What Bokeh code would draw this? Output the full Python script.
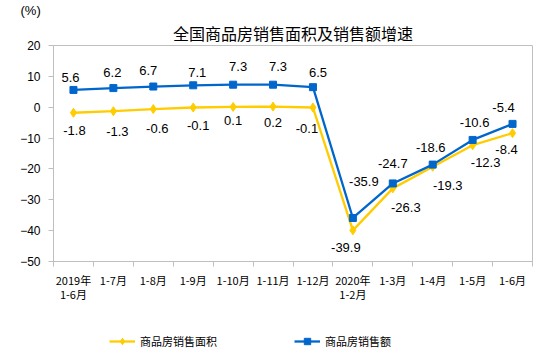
from bokeh.plotting import figure
from bokeh.layouts import column
from bokeh.models import Range1d, FixedTicker, Title, Legend, LegendItem, ColumnDataSource
from bokeh.embed import file_html
from bokeh.resources import INLINE
from bokeh.core.properties import value

categories = ["2019年\n1-6月", "1-7月", "1-8月", "1-9月", "1-10月", "1-11月", "1-12月",
              "2020年\n1-2月", "1-3月", "1-4月", "1-5月", "1-6月"]
area_growth = [-1.8, -1.3, -0.6, -0.1, 0.1, 0.2, -0.1, -39.9, -26.3, -19.3, -12.3, -8.4]
sales_growth = [5.6, 6.2, 6.7, 7.1, 7.3, 7.3, 6.5, -35.9, -24.7, -18.6, -10.6, -5.4]
y_ticks = [-50, -40, -30, -20, -10, 0, 10, 20]
series_names = ["商品房销售面积", "商品房销售额"]

# label placement offsets (screen px, y positive = down)
sales_dx = [-3, -1, -5, 4, 5, 5, 5, 11, 0, -2, 2, -9]
sales_dy = [-12, -16, -16, -13, -18, -18, -15, -36, -20, -17, -17, -16]
area_dx = [1, 4, 4, 5, 0, 0, -6, -7, 13, 15, 13, -6]
area_dy = [18, 20, 19, 18, 14, 16, 21, 17, 19, 19, 17, 16]

YELLOW = "#FFCC00"
BLUE = "#0066CC"
GRAY = "#BFBFBF"
CJK = "Noto Sans CJK SC"
LAT = "Liberation Sans"

xs = list(range(len(categories)))
src = ColumnDataSource(dict(
    x=xs, area=area_growth, sales=sales_growth,
    area_txt=[f"{v:.1f}" for v in area_growth],
    sales_txt=[f"{v:.1f}" for v in sales_growth],
    sdx=sales_dx, sdy=sales_dy, adx=area_dx, ady=area_dy,
))

p = figure(width=548, height=318, output_backend="svg", toolbar_location=None,
           x_range=Range1d(-0.5, len(categories) - 0.5), y_range=Range1d(-50, 20),
           min_border_left=53, min_border_right=16, min_border_top=45, min_border_bottom=57)

# outer title: unit label
p.title.text = "(%)"
p.title.align = "left"
p.title.offset = -33
p.title.text_font = LAT
p.title.text_font_size = "13px"
p.title.text_font_style = "normal"
p.title.text_color = "#000000"
p.title.standoff = 0

# main title (nearest the frame)
main_title = Title(text="全国商品房销售面积及销售额增速", align="center",
                   text_font=CJK, text_font_size="16px", text_font_style="normal",
                   text_color="#000000", standoff=2)
p.add_layout(main_title, "above")

p.xgrid.grid_line_color = None
p.ygrid.grid_line_color = None
p.outline_line_color = GRAY
p.outline_line_width = 1

# x axis
xa = p.xaxis[0]
xa.ticker = FixedTicker(ticks=xs, minor_ticks=[i + 0.5 for i in range(-1, len(categories))])
xa.major_label_overrides = {i: c for i, c in enumerate(categories)}
xa.major_tick_line_color = None
xa.minor_tick_in = 0
xa.minor_tick_out = 5
xa.minor_tick_line_color = GRAY
xa.axis_line_color = GRAY
xa.major_label_text_font = CJK
xa.major_label_text_font_size = "11px"
xa.major_label_text_line_height = 0.9
xa.major_label_text_color = "#000000"
xa.major_label_standoff = 4

# y axis
ya = p.yaxis[0]
ya.ticker = FixedTicker(ticks=y_ticks)
ya.major_tick_in = 0
ya.major_tick_out = 5
ya.major_tick_line_color = GRAY
ya.minor_tick_line_color = None
ya.axis_line_color = GRAY
ya.major_label_text_font = LAT
ya.major_label_text_font_size = "12px"
ya.major_label_text_color = "#000000"
ya.major_label_standoff = 8

# series
p.line("x", "area", source=src, line_color=YELLOW, line_width=2.3)
p.scatter("x", "area", source=src, marker="diamond", size=9, fill_color=YELLOW, line_color=YELLOW)
p.line("x", "sales", source=src, line_color=BLUE, line_width=2.3)
p.scatter("x", "sales", source=src, marker="square", size=7, fill_color=BLUE, line_color=BLUE)

p.text("x", "sales", text="sales_txt", source=src, x_offset="sdx", y_offset="sdy",
       text_align="center", text_baseline="middle", text_font=value(LAT),
       text_font_size="13px", text_color="#000000")
p.text("x", "area", text="area_txt", source=src, x_offset="adx", y_offset="ady",
       text_align="center", text_baseline="middle", text_font=value(LAT),
       text_font_size="13px", text_color="#000000")

# legend strip below the chart (separate figure so the legend is not clipped);
# its renderers hold the same series but the ranges keep them out of view
lg = figure(width=548, height=40, output_backend="svg", toolbar_location=None,
            x_range=Range1d(0, 1), y_range=Range1d(1000, 1001),
            x_axis_location=None, y_axis_location=None, min_border=0)
lg.xgrid.grid_line_color = None
lg.ygrid.grid_line_color = None
lg.outline_line_color = None
ka = lg.line("x", "area", source=src, line_color=YELLOW, line_width=2.3)
kas = lg.scatter("x", "area", source=src, marker="diamond", size=9, fill_color=YELLOW, line_color=YELLOW)
kb = lg.line("x", "sales", source=src, line_color=BLUE, line_width=2.3)
kbs = lg.scatter("x", "sales", source=src, marker="square", size=7, fill_color=BLUE, line_color=BLUE)

legend = Legend(items=[LegendItem(label=series_names[0], renderers=[ka, kas]),
                       LegendItem(label=series_names[1], renderers=[kb, kbs])],
                orientation="horizontal", location=(56, 9),
                glyph_width=26, glyph_height=16, label_height=16, label_standoff=5,
                label_width=154, spacing=0, padding=0, margin=0, border_line_color=None,
                background_fill_alpha=0, label_text_font=CJK, label_text_font_size="11px",
                label_text_color="#000000")
lg.add_layout(legend, "center")

layout = column(p, lg, spacing=0)
open("out.html", "w").write(file_html(layout, INLINE))
